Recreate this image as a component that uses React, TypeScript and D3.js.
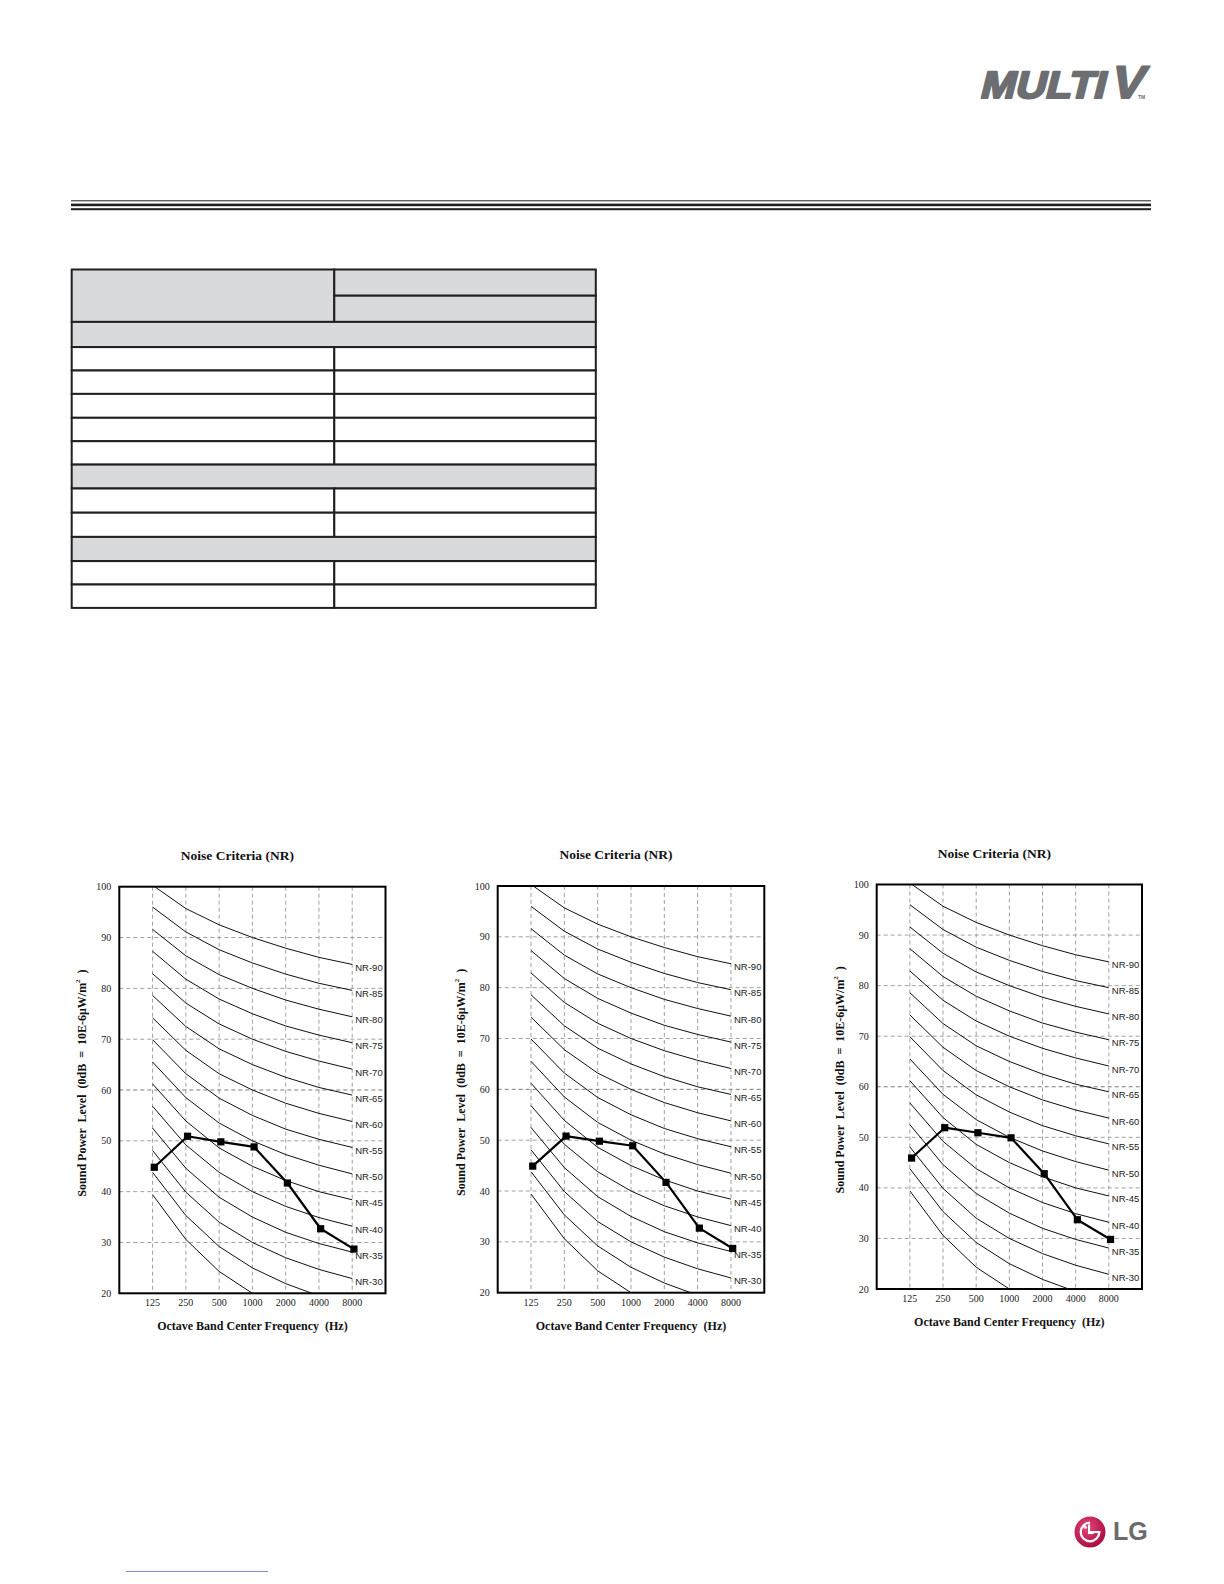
import React from 'react';
import * as d3 from 'd3';

// ---------- data ----------
const bands = [125, 250, 500, 1000, 2000, 4000, 8000];
const bandLabels = ['125', '250', '500', '1000', '2000', '4000', '8000'];
const yTicks = [20, 30, 40, 50, 60, 70, 80, 90, 100];
const yGrid = [30, 40, 50, 60, 70, 80, 90];

// NR curves (dB at 125..8000 Hz)
const nr20 = [39.4, 30.6, 24.3, 20, 16.8, 14.4, 12.6];
const nr25 = [43.8, 35.3, 29.2, 25, 21.9, 19.5, 17.8];
const nr30 = [48.1, 39.9, 34.0, 30, 27.0, 24.7, 22.9];
const nr35 = [52.5, 44.6, 38.9, 35, 32.0, 29.8, 28.1];
const nr40 = [56.8, 49.2, 43.8, 40, 37.1, 34.9, 33.2];
const nr45 = [61.2, 53.9, 48.6, 45, 42.2, 40.0, 38.4];
const nr50 = [65.5, 58.5, 53.5, 50, 47.3, 45.2, 43.5];
const nr55 = [69.9, 63.2, 58.4, 55, 52.3, 50.3, 48.7];
const nr60 = [74.2, 67.8, 63.2, 60, 57.4, 55.4, 53.8];
const nr65 = [78.6, 72.5, 68.1, 65, 62.5, 60.5, 59.0];
const nr70 = [82.9, 77.1, 73.0, 70, 67.6, 65.7, 64.1];
const nr75 = [87.3, 81.8, 77.9, 75, 72.6, 70.8, 69.3];
const nr80 = [91.6, 86.4, 82.7, 80, 77.7, 75.9, 74.4];
const nr85 = [96.0, 91.1, 87.6, 85, 82.8, 81.0, 79.6];
const nr90 = [100.3, 95.7, 92.5, 90, 87.9, 86.1, 84.7];

const nrCurves = [
  { name: 'NR-20', values: nr20, labeled: false },
  { name: 'NR-25', values: nr25, labeled: false },
  { name: 'NR-30', values: nr30, labeled: true },
  { name: 'NR-35', values: nr35, labeled: true },
  { name: 'NR-40', values: nr40, labeled: true },
  { name: 'NR-45', values: nr45, labeled: true },
  { name: 'NR-50', values: nr50, labeled: true },
  { name: 'NR-55', values: nr55, labeled: true },
  { name: 'NR-60', values: nr60, labeled: true },
  { name: 'NR-65', values: nr65, labeled: true },
  { name: 'NR-70', values: nr70, labeled: true },
  { name: 'NR-75', values: nr75, labeled: true },
  { name: 'NR-80', values: nr80, labeled: true },
  { name: 'NR-85', values: nr85, labeled: true },
  { name: 'NR-90', values: nr90, labeled: true },
];

// Measured sound power levels per chart
const chart1Levels = [44.8, 50.9, 49.8, 48.8, 41.7, 32.7, 28.7];
const chart2Levels = [44.9, 50.8, 49.8, 48.9, 41.7, 32.7, 28.7];
const chart3Levels = [45.9, 51.9, 50.9, 49.9, 42.8, 33.7, 29.8];

const chartTitle = 'Noise Criteria (NR)';
const xAxisTitle = 'Octave Band Center Frequency  (Hz)';

// table structure (empty spec table)
const tableRowKinds = ['head', 'head', 'section', 'row', 'row', 'row', 'row', 'row', 'section', 'row', 'row', 'section', 'row', 'row'];
const tableRowHeights = [26.2, 26.2, 25.2, 23.4, 23.4, 23.9, 23.4, 23.4, 23.9, 24.2, 24.2, 24.2, 23.4, 23.4];

// ---------- components ----------
type Frame = { left: number; right: number; top: number; bottom: number };

const serif = '"Liberation Serif", "Times New Roman", serif';
const sans = '"Liberation Sans", Arial, sans-serif';

function NRChart({ id, frame, levels }: { id: string; frame: Frame; levels: number[] }) {
  const { left, right, top, bottom } = frame;
  const x = d3.scaleLog().base(2).domain([62.5, 16000]).range([left, right]);
  const y = d3.scaleLinear().domain([20, 100]).range([bottom, top]);
  const line = d3
    .line<number>()
    .x((_, i) => x(bands[i]))
    .y((d) => y(d));
  const seriesLine = d3
    .line<number>()
    .x((_, i) => x(bands[i]) + 1.7)
    .y((d) => y(d));
  const cx = (left + right) / 2;
  const cy = (top + bottom) / 2;
  return (
    <g>
      <defs>
        <clipPath id={id}>
          <rect x={left} y={top} width={right - left} height={bottom - top} />
        </clipPath>
      </defs>
      <text x={cx - 15} y={top - 27} textAnchor="middle" fontFamily={serif} fontWeight="bold" fontSize={13.5} fill="#111">
        {chartTitle}
      </text>
      {/* grid */}
      {bands.map((b) => (
        <line key={'v' + b} x1={x(b)} x2={x(b)} y1={top} y2={bottom} stroke="#a0a0a0" strokeWidth={1} strokeDasharray="4 3" />
      ))}
      {yGrid.map((v) => (
        <line key={'h' + v} x1={left} x2={right} y1={y(v)} y2={y(v)} stroke={v === 60 ? '#7a7a7a' : '#a0a0a0'} strokeWidth={1} strokeDasharray="4 3" />
      ))}
      {/* NR curves */}
      <g clipPath={`url(#${id})`}>
        {nrCurves.map((c) => (
          <path key={c.name} d={line(c.values) || ''} fill="none" stroke="#111" strokeWidth={1} />
        ))}
      </g>
      {nrCurves
        .filter((c) => c.labeled)
        .map((c) => (
          <text key={'l' + c.name} x={x(8000) + 3} y={y(c.values[6]) + 3} dominantBaseline="central" fontFamily={sans} fontSize={9.5} fill="#222">
            {c.name}
          </text>
        ))}
      {/* series */}
      <path d={seriesLine(levels) || ''} fill="none" stroke="#000" strokeWidth={2.2} strokeLinejoin="round" />
      {levels.map((v, i) => (
        <rect key={'m' + i} x={x(bands[i]) + 1.7 - 3.6} y={y(v) - 3.6} width={7.2} height={7.2} fill="#000" />
      ))}
      {/* frame */}
      <rect x={left} y={top} width={right - left} height={bottom - top} fill="none" stroke="#000" strokeWidth={2} />
      {/* tick labels */}
      {yTicks.map((v) => (
        <text key={'yt' + v} x={left - 8} y={y(v)} textAnchor="end" dominantBaseline="central" fontFamily={serif} fontSize={10} fill="#222">
          {v}
        </text>
      ))}
      {bands.map((b, i) => (
        <text key={'xt' + b} x={x(b)} y={bottom + 9.5} textAnchor="middle" dominantBaseline="central" fontFamily={serif} fontSize={10} fill="#222">
          {bandLabels[i]}
        </text>
      ))}
      <text x={cx} y={bottom + 37} textAnchor="middle" fontFamily={serif} fontWeight="bold" fontSize={12} fill="#111" style={{ whiteSpace: 'pre' }}>
        {xAxisTitle}
      </text>
      <text
        transform={`translate(${left - 37},${cy - 7}) rotate(-90)`}
        textAnchor="middle"
        dominantBaseline="central"
        fontFamily={serif}
        fontWeight="bold"
        fontSize={12}
        fill="#111"
        style={{ whiteSpace: 'pre' }}
      >
        {'Sound Power  Level  (0dB  =  10E-6μW/m'}
        <tspan dy={-4} fontSize={7}>2</tspan>
        <tspan dy={4}>{'  )'}</tspan>
      </text>
    </g>
  );
}

function SpecTable() {
  const left = 71.7;
  const split = 334.3;
  const right = 595.8;
  const top = 269.5;
  const ys = [top, ...Array.from(d3.cumsum(tableRowHeights)).map((v) => top + v)];
  const gray = '#d9dadc';
  const stroke = '#231f20';
  const cells: JSX.Element[] = [];
  tableRowKinds.forEach((kind, i) => {
    const y0 = ys[i];
    const h = tableRowHeights[i];
    if (kind === 'head') {
      if (i === 0) {
        cells.push(<rect key={'hl'} x={left} y={y0} width={split - left} height={tableRowHeights[0] + tableRowHeights[1]} fill={gray} stroke={stroke} strokeWidth={2} />);
      }
      cells.push(<rect key={'hr' + i} x={split} y={y0} width={right - split} height={h} fill={gray} stroke={stroke} strokeWidth={2} />);
    } else if (kind === 'section') {
      cells.push(<rect key={'s' + i} x={left} y={y0} width={right - left} height={h} fill={gray} stroke={stroke} strokeWidth={2} />);
    } else {
      cells.push(<rect key={'a' + i} x={left} y={y0} width={split - left} height={h} fill="#fff" stroke={stroke} strokeWidth={2} />);
      cells.push(<rect key={'b' + i} x={split} y={y0} width={right - split} height={h} fill="#fff" stroke={stroke} strokeWidth={2} />);
    }
  });
  return <g>{cells}</g>;
}

function LGLogo() {
  const cx = 1090;
  const cy = 1532;
  const r = 15.5;
  const arc = d3.arc()({ innerRadius: 8.2, outerRadius: 10.4, startAngle: Math.PI / 2, endAngle: Math.PI * 2 }) || '';
  return (
    <g>
      <defs>
        <radialGradient id="lgred" cx="40%" cy="35%" r="70%">
          <stop offset="0%" stopColor="#e4477a" />
          <stop offset="100%" stopColor="#a8093e" />
        </radialGradient>
      </defs>
      <circle cx={cx} cy={cy} r={r} fill="url(#lgred)" />
      <g transform={`translate(${cx},${cy})`}>
        <path d={arc} fill="#fff" />
        <rect x={0} y={-1} width={10.4} height={2.1} fill="#fff" />
        <rect x={-2} y={-7.5} width={2.1} height={9} fill="#fff" />
        <rect x={-2} y={0} width={5.5} height={2.1} fill="#fff" />
        <circle cx={-4.8} cy={-4.8} r={1.6} fill="#fff" />
      </g>
      <text x={1113} y={1540} fontFamily={sans} fontWeight="bold" fontSize={25} fill="#6b6b6b">
        LG
      </text>
    </g>
  );
}

function MultiVLogo() {
  return (
    <g fill="#6d6e71" stroke="#6d6e71" strokeLinejoin="round" fontFamily={sans} fontWeight="bold">
      <g transform="translate(979,98) skewX(-14)">
        <text x={0} y={0} fontSize={38} strokeWidth={2.2} textLength={125} lengthAdjust="spacingAndGlyphs">
          MULTI
        </text>
        <text x={130} y={0} fontSize={46} strokeWidth={2} textLength={33} lengthAdjust="spacingAndGlyphs">
          V
        </text>
      </g>
      <text x={1138} y={99} fontSize={5} stroke="none">
        TM
      </text>
    </g>
  );
}

export default function App() {
  const frames: Frame[] = [
    { left: 119.3, right: 385.5, top: 886.7, bottom: 1293.3 },
    { left: 497.7, right: 764.3, top: 886, bottom: 1292.7 },
    { left: 876.7, right: 1142, top: 884.5, bottom: 1289 },
  ];
  const series = [chart1Levels, chart2Levels, chart3Levels];
  return (
    <svg
      width={1224}
      height={1584}
      viewBox="0 0 1224 1584"
      style={{ position: 'absolute', left: 0, top: 0, background: '#fff' }}
    >
      <rect x={0} y={0} width={1224} height={1584} fill="#fff" />
      <MultiVLogo />
      {/* header rules */}
      <rect x={71} y={200.3} width={1080} height={1} fill="#231f20" />
      <rect x={71} y={203.6} width={1080} height={2.6} fill="#231f20" />
      <rect x={71} y={208.2} width={1080} height={2} fill="#231f20" />
      <SpecTable />
      {frames.map((f, i) => (
        <NRChart key={i} id={'clip' + i} frame={f} levels={series[i]} />
      ))}
      <line x1={126} x2={268} y1={1571.5} y2={1571.5} stroke="#7f8fd8" strokeWidth={1} />
      <LGLogo />
    </svg>
  );
}
